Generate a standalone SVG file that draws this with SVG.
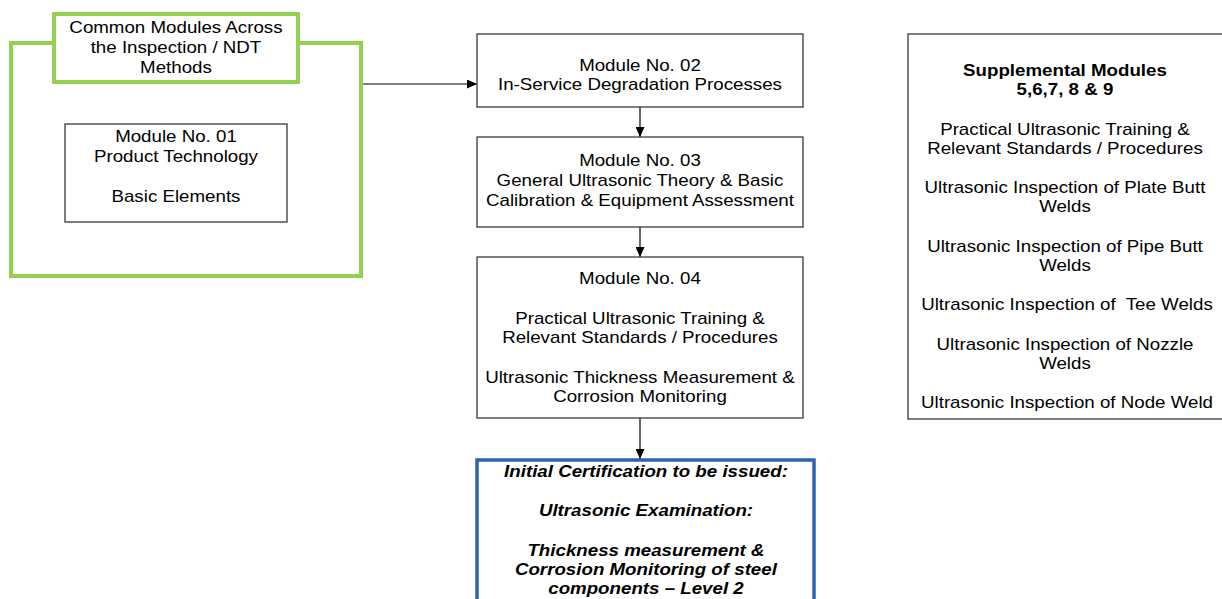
<svg xmlns="http://www.w3.org/2000/svg" width="1222" height="599" viewBox="0 0 1222 599">
<defs>
<style>
text{font-family:"Liberation Sans",Arial,sans-serif;font-size:16px;fill:#000;text-anchor:middle;transform-box:fill-box;transform-origin:center;transform:scaleX(1.17)}
.b{font-weight:bold}
.bi{font-weight:bold;font-style:italic}
.box{fill:#fff;stroke:#3a3a3a;stroke-width:1.3}
.green{fill:#fff;stroke:#92D050;stroke-width:4}
.blue{fill:#fff;stroke:#2E62AE;stroke-width:3.5}
.conn{stroke:#000;stroke-width:1.2;fill:none}
</style>
<marker id="arr" markerUnits="userSpaceOnUse" markerWidth="10" markerHeight="9" viewBox="0 0 10 9" refX="10" refY="4.5" orient="auto">
<path d="M0,0 L10,4.5 L0,9 z" fill="#000"/>
</marker>
</defs>
<rect width="1222" height="599" fill="#fff"/>

<g id="common-group">
<rect class="green" x="11" y="43" width="350" height="233"/>
</g>
<g id="common-header">
<rect class="green" x="54" y="14" width="244" height="68"/>
<text x="176" y="33">Common Modules Across</text>
<text x="176" y="53">the Inspection / NDT</text>
<text x="176" y="73">Methods</text>
</g>
<g id="module01">
<rect class="box" x="65" y="124" width="222" height="98"/>
<text x="176" y="142">Module No. 01</text>
<text x="176" y="162">Product Technology</text>
<text x="176" y="202">Basic Elements</text>
</g>

<g id="connectors">
<line class="conn" x1="363" y1="84" x2="477" y2="84" marker-end="url(#arr)"/>
<line class="conn" x1="640" y1="107" x2="640" y2="137" marker-end="url(#arr)"/>
<line class="conn" x1="640" y1="227" x2="640" y2="257" marker-end="url(#arr)"/>
<line class="conn" x1="640" y1="418" x2="640" y2="459" marker-end="url(#arr)"/>
</g>

<g id="module02">
<rect class="box" x="477" y="34" width="326" height="73"/>
<text x="640" y="71">Module No. 02</text>
<text x="640" y="90">In-Service Degradation Processes</text>
</g>
<g id="module03">
<rect class="box" x="477" y="137" width="326" height="90"/>
<text x="640" y="166">Module No. 03</text>
<text x="640" y="186">General Ultrasonic Theory &amp; Basic</text>
<text x="640" y="206">Calibration &amp; Equipment Assessment</text>
</g>
<g id="module04">
<rect class="box" x="477" y="257" width="326" height="161"/>
<text x="640" y="284">Module No. 04</text>
<text x="640" y="324">Practical Ultrasonic Training &amp;</text>
<text x="640" y="343">Relevant Standards / Procedures</text>
<text x="640" y="383">Ultrasonic Thickness Measurement &amp;</text>
<text x="640" y="402">Corrosion Monitoring</text>
</g>
<g id="certification">
<rect class="blue" x="477" y="460" width="337" height="170"/>
<text class="bi" x="646" y="477">Initial Certification to be issued:</text>
<text class="bi" x="646" y="516">Ultrasonic Examination:</text>
<text class="bi" x="646" y="556">Thickness measurement &amp;</text>
<text class="bi" x="646" y="575">Corrosion Monitoring of steel</text>
<text class="bi" x="646" y="594">components – Level 2</text>
</g>
<g id="supplemental">
<rect class="box" x="908" y="34" width="330" height="385"/>
<text class="b" x="1065" y="76">Supplemental Modules</text>
<text class="b" x="1065" y="95">5,6,7, 8 &amp; 9</text>
<text x="1065" y="135">Practical Ultrasonic Training &amp;</text>
<text x="1065" y="154">Relevant Standards / Procedures</text>
<text x="1065" y="193">Ultrasonic Inspection of Plate Butt</text>
<text x="1065" y="212">Welds</text>
<text x="1065" y="252">Ultrasonic Inspection of Pipe Butt</text>
<text x="1065" y="271">Welds</text>
<text x="1067" y="310" xml:space="preserve">Ultrasonic Inspection of  Tee Welds</text>
<text x="1065" y="350">Ultrasonic Inspection of Nozzle</text>
<text x="1065" y="369">Welds</text>
<text x="1067" y="408">Ultrasonic Inspection of Node Weld</text>
</g>
</svg>
